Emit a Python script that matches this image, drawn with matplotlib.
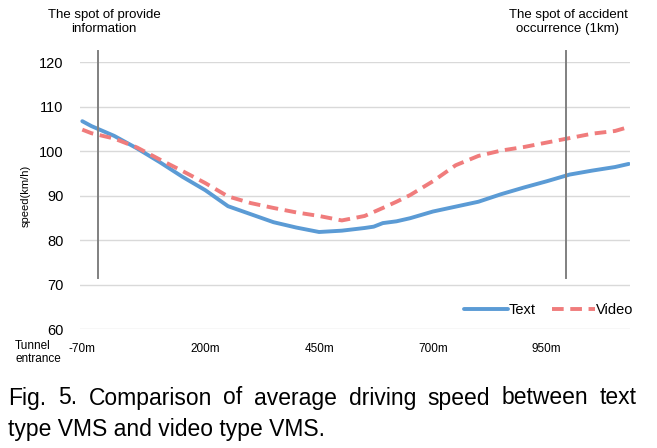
import matplotlib.pyplot as plt

# distance from tunnel entrance (m)
dist = [-70, -50, 0, 50, 100, 150, 200, 250, 300, 350, 400, 450, 500, 550,
        570, 590, 620, 650, 700, 750, 800, 850, 900, 950, 1000, 1050, 1100, 1130]
text_speed = [106.7, 105.6, 103.4, 100.6, 97.5, 94.2, 91.2, 87.6, 85.8, 84.0,
              82.8, 81.8, 82.1, 82.7, 83.0, 83.8, 84.2, 84.9, 86.4, 87.5,
              88.6, 90.3, 91.8, 93.2, 94.7, 95.6, 96.4, 97.1]
video_speed = [104.8, 104.0, 102.8, 100.8, 98.1, 95.5, 92.8, 89.8, 88.3, 87.2,
               86.2, 85.4, 84.4, 85.4, 86.3, 87.2, 88.6, 90.1, 93.2, 96.8,
               98.9, 100.1, 100.9, 101.9, 102.9, 103.9, 104.5, 105.4]
xtick_pos = [-70, 200, 450, 700, 950]
xtick_labels = ['-70m', '200m', '450m', '700m', '950m']
yticks = [60, 70, 80, 90, 100, 110, 120]
marker_x = [-36, 993]
caption1 = 'Fig. 5. Comparison of average driving speed between text'
caption2 = 'type VMS and video type VMS.'

plt.rcParams['font.family'] = ['Liberation Sans', 'DejaVu Sans']

fig = plt.figure(figsize=(6.57, 4.48), dpi=100)
ax = fig.add_axes([0.1218, 0.2656, 0.8372, 0.596])

ax.plot(dist, text_speed, color='#5B9BD5', lw=2.8, label='Text', solid_capstyle='round')
ax.plot(dist, video_speed, color='#F07C7C', lw=2.8, label='Video', dashes=(3.0, 1.7))

for mx in marker_x:
    ax.axvline(mx, ymin=0.19, ymax=1.04, color='#808080', lw=1.4, clip_on=False)

ax.set_xlim(-75, 1133)
ax.set_ylim(60, 120)
ax.set_yticks(yticks)
ax.set_xticks(xtick_pos)
ax.set_xticklabels(xtick_labels)
ax.tick_params(axis='both', length=0)
ax.tick_params(axis='y', labelsize=10.5, pad=12)
ax.tick_params(axis='x', labelsize=8.5, pad=10)
ax.grid(axis='y', color='#d9d9d9', lw=1)
ax.set_axisbelow(True)
for s in ax.spines.values():
    s.set_visible(False)

ax.set_ylabel('speed(km/h)', fontsize=8, labelpad=6)

fig.text(15 / 657, 1 - 340 / 448, 'Tunnel\nentrance', fontsize=8.5, ha='left',
         va='top', linespacing=1.15)

fig.text(104 / 657, 1 - 9 / 448, 'The spot of provide\ninformation', fontsize=9.5,
         ha='center', va='top', linespacing=1.25)
fig.text(568 / 657, 1 - 9 / 448, 'The spot of accident\noccurrence (1km)', fontsize=9.5,
         ha='center', va='top', linespacing=1.25)

ax.legend(loc='center right', bbox_to_anchor=(1.03, 0.071), ncol=2, frameon=False,
          fontsize=10.5, handlelength=3.0, handletextpad=0.05, columnspacing=1.1)

# justified first caption line
fig.canvas.draw()
renderer = fig.canvas.get_renderer()
words = caption1.split(' ')
x0, x1 = 8 / 657, 637 / 657
y1 = 1 - 398 / 448
items = [fig.text(0, y1, w, fontsize=16.5, ha='left', va='center') for w in words]
widths = [t.get_window_extent(renderer).width / fig.bbox.width for t in items]
gap = ((x1 - x0) - sum(widths)) / (len(words) - 1)
x = x0
for t, w in zip(items, widths):
    t.set_x(x)
    x += w + gap

fig.text(8 / 657, 1 - 429 / 448, caption2, fontsize=16.5, ha='left', va='center')

fig.savefig('out.png', dpi=100)
